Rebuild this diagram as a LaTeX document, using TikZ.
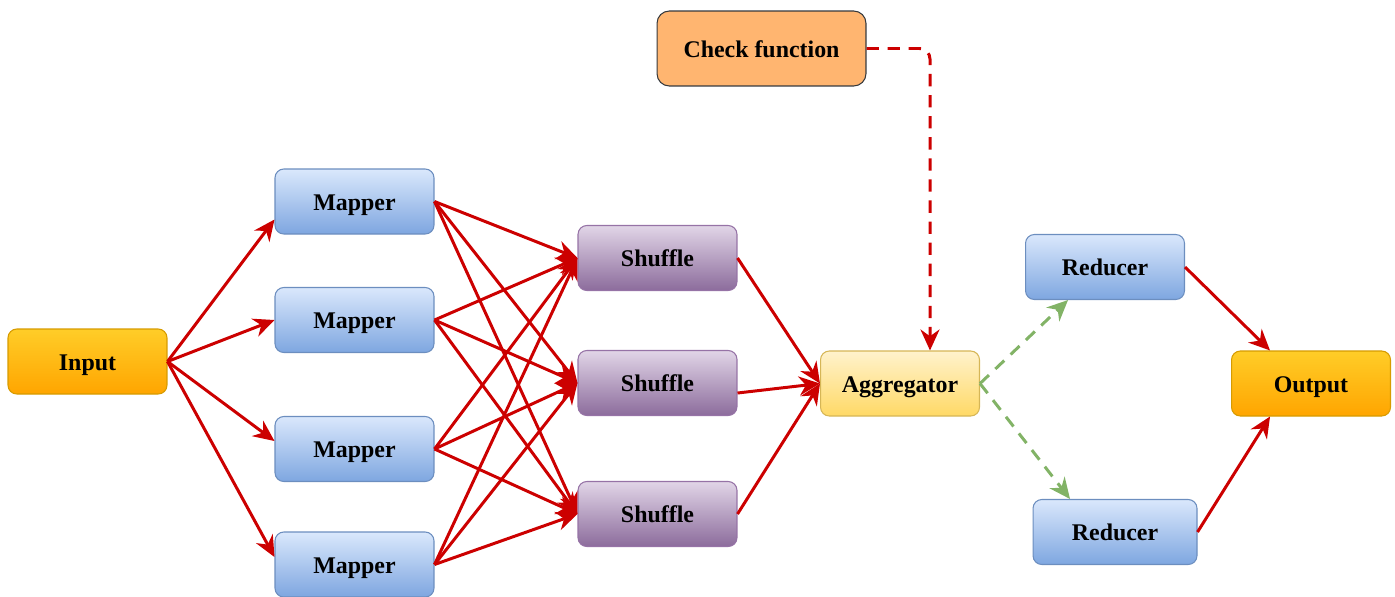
\documentclass[tikz,border=0pt]{standalone}
\usepackage{fontspec}
\setmainfont{Liberation Serif}
\usepackage{xcolor}
\usetikzlibrary{arrows.meta,positioning,calc}

\definecolor{ioTop}{HTML}{FFCD28}
\definecolor{ioBot}{HTML}{FFA500}
\definecolor{ioLine}{HTML}{D79B00}
\definecolor{mapTop}{HTML}{DAE8FC}
\definecolor{mapBot}{HTML}{7EA6E0}
\definecolor{mapLine}{HTML}{6C8EBF}
\definecolor{shufTop}{HTML}{E1D5E7}
\definecolor{shufBot}{HTML}{8C6C9C}
\definecolor{shufLine}{HTML}{9673A6}
\definecolor{aggTop}{HTML}{FFF2CC}
\definecolor{aggBot}{HTML}{FFD966}
\definecolor{aggLine}{HTML}{D6B656}
\definecolor{chkFill}{HTML}{FFB570}
\definecolor{chkLine}{HTML}{36393D}
\definecolor{flowRed}{HTML}{CC0000}
\definecolor{flowGreen}{HTML}{82B366}

\begin{document}
\begin{tikzpicture}[
    x=0.02cm, y=-0.02cm,
    box/.style={draw, line width=0.6pt, rounded corners=5pt,
                minimum width=3.18cm, minimum height=1.3cm,
                text height=1.15em, text depth=0.15em,
                font=\fontsize{13.6}{16}\selectfont\bfseries, align=center},
    io/.style={box, top color=ioTop, bottom color=ioBot, draw=ioLine},
    mapbox/.style={box, top color=mapTop, bottom color=mapBot, draw=mapLine},
    shufbox/.style={box, top color=shufTop, bottom color=shufBot, draw=shufLine},
    aggbox/.style={box, top color=aggTop, bottom color=aggBot, draw=aggLine},
    chk/.style={box, fill=chkFill, draw=chkLine, minimum width=4.18cm,
                minimum height=1.5cm, rounded corners=7pt},
    arr/.style={-{Stealth[length=4.2mm, width=3.8mm]}, line width=1.7pt, flowRed},
    darr/.style={arr, dash pattern=on 7pt off 5pt, rounded corners=6pt},
    garr/.style={-{Stealth[length=4.2mm, width=3.8mm]}, line width=1.7pt,
                 flowGreen, dash pattern=on 7pt off 5pt}
]
    \useasboundingbox (0,0) rectangle (1395,596);

    % Input and mappers
    \node[io] (input) at (87.5,361.5) {Input};
    \node[mapbox] (map1) at (354.5,201.5) {Mapper};
    \node[mapbox] (map2) at (354.5,320) {Mapper};
    \node[mapbox] (map3) at (354.5,449) {Mapper};
    \node[mapbox] (map4) at (354.5,564.5) {Mapper};

    % Shuffle stage
    \node[shufbox] (shuf1) at (657.5,258) {Shuffle};
    \node[shufbox] (shuf2) at (657.5,383) {Shuffle};
    \node[shufbox] (shuf3) at (657.5,514) {Shuffle};

    % Aggregation and check
    \node[aggbox] (agg) at (900,383.5) {Aggregator};
    \node[chk] (check) at (761.5,48.5) {Check function};

    % Reducers and output
    \node[mapbox] (red1) at (1105,267) {Reducer};
    \node[mapbox, minimum width=3.28cm] (red2) at (1115,532) {Reducer};
    \node[io] (output) at (1311,383.5) {Output};

    % Input -> mappers
    \draw[arr] (input.east) -- ([yshift=-0.36cm]map1.west);
    \draw[arr] (input.east) -- (map2.west);
    \draw[arr] (input.east) -- ([yshift=0.16cm]map3.west);
    \draw[arr] (input.east) -- ([yshift=0.15cm]map4.west);

    % Mappers -> shuffles
    \draw[arr] (map1.east) -- (shuf1.west);
    \draw[arr] (map1.east) -- (shuf2.west);
    \draw[arr] (map1.east) -- (shuf3.west);
    \draw[arr] (map2.east) -- (shuf1.west);
    \draw[arr] (map2.east) -- (shuf2.west);
    \draw[arr] (map2.east) -- (shuf3.west);
    \draw[arr] (map3.east) -- (shuf1.west);
    \draw[arr] (map3.east) -- (shuf2.west);
    \draw[arr] (map3.east) -- (shuf3.west);
    \draw[arr] (map4.east) -- (shuf1.west);
    \draw[arr] (map4.east) -- (shuf2.west);
    \draw[arr] (map4.east) -- (shuf3.west);

    % Shuffles -> aggregator
    \draw[arr] (shuf1.east) -- (agg.west);
    \draw[arr] ([yshift=-0.2cm]shuf2.east) -- (agg.west);
    \draw[arr] (shuf3.east) -- (agg.west);

    % Check function feeds the aggregator
    \draw[darr] (check.east) -| ([xshift=0.6cm]agg.north);

    % Aggregator -> reducers
    \draw[garr] (agg.east) -- ([xshift=-0.74cm]red1.south);
    \draw[garr] (agg.east) -- ([xshift=-0.9cm]red2.north);

    % Reducers -> output
    \draw[arr] (red1.east) -- ([xshift=-0.82cm]output.north);
    \draw[arr] (red2.east) -- ([xshift=-0.82cm]output.south);

\end{tikzpicture}
\end{document}
